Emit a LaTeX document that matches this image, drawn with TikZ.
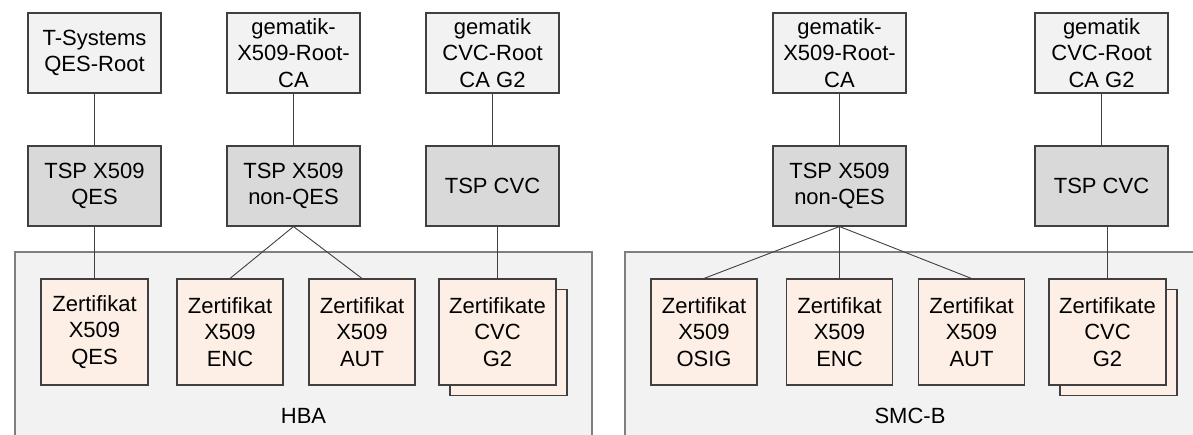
\documentclass[tikz,border=0pt]{standalone}
\usepackage{fontspec}
\setmainfont{Liberation Sans}

\definecolor{boxline}{HTML}{404040}
\definecolor{cardline}{HTML}{7F7F7F}
\definecolor{rootfill}{HTML}{F2F2F2}
\definecolor{tspfill}{HTML}{D9D9D9}
\definecolor{certfill}{HTML}{FDEFE5}

\tikzset{
  box/.style={draw=boxline, line width=1.1pt, align=center, inner sep=0pt,
    font=\fontsize{22}{26.5}\selectfont},
  rootbox/.style={box, fill=rootfill, minimum width=133pt, minimum height=80pt},
  tspbox/.style={box, fill=tspfill, minimum width=133pt, minimum height=80pt},
  certbox/.style={box, fill=certfill, minimum width=106pt, minimum height=106pt},
  cvcbox/.style={certbox, minimum width=117pt},
  cardbox/.style={draw=cardline, fill=rootfill, line width=1.1pt, inner sep=0pt},
  cardlabel/.style={inner sep=0pt, font=\fontsize{22}{26.5}\selectfont},
  link/.style={draw=boxline, line width=0.9pt}
}

\begin{document}
\begin{tikzpicture}[x=1pt,y=-1pt]

\useasboundingbox (0,0) rectangle (1193,435);

% HBA
\node[cardbox, minimum width=577pt, minimum height=188pt] (hba) at (303.5,346) {};
\node[cardlabel] (hbaLabel) at (303.5,416) {HBA};

\node[rootbox] (rootQES) at (94.5,53) {T-Systems\\QES-Root};
\node[rootbox] (rootX509) at (293.5,53) {gematik-\\X509-Root-\\CA};
\node[rootbox] (rootCVC) at (492.5,53) {gematik\\CVC-Root\\CA G2};

\node[tspbox] (tspQES) at (94.5,186) {TSP X509\\QES};
\node[tspbox] (tspX509) at (293.5,186) {TSP X509\\non-QES};
\node[tspbox] (tspCVC) at (492.5,186) {TSP CVC};

\node[certbox, minimum width=107pt] (certQES) at (94.5,332) {Zertifikat\\X509\\QES};
\node[certbox] (certENC) at (230,332) {Zertifikat\\X509\\ENC};
\node[certbox] (certAUT) at (362,332) {Zertifikat\\X509\\AUT};
\node[cvcbox] (certCVCback) at (508.5,342.5) {};
\node[cvcbox] (certCVC) at (497.5,332) {Zertifikate\\CVC\\G2};

\draw[link] (rootQES) -- (tspQES);
\draw[link] (rootX509) -- (tspX509);
\draw[link] (rootCVC) -- (tspCVC);
\draw[link] (tspQES) -- (certQES);
\draw[link] (tspX509.south) -- (certENC.north);
\draw[link] (tspX509.south) -- (certAUT.north);
\draw[link] (certCVC.north) -- (certCVC.north |- tspCVC.south);

% SMC-B
\node[cardbox, minimum width=574pt, minimum height=188pt] (smcb) at (912,346) {};
\node[cardlabel] (smcbLabel) at (910,416) {SMC-B};

\node[rootbox] (rootX509b) at (839.5,53) {gematik-\\X509-Root-\\CA};
\node[rootbox] (rootCVCb) at (1101.5,53) {gematik\\CVC-Root\\CA G2};

\node[tspbox] (tspX509b) at (839.5,186) {TSP X509\\non-QES};
\node[tspbox] (tspCVCb) at (1101.5,186) {TSP CVC};

\node[certbox] (certOSIG) at (704,332) {Zertifikat\\X509\\OSIG};
\node[certbox] (certENCb) at (839.5,332) {Zertifikat\\X509\\ENC};
\node[certbox] (certAUTb) at (971.5,332) {Zertifikat\\X509\\AUT};
\node[cvcbox] (certCVCbback) at (1118.5,342.5) {};
\node[cvcbox] (certCVCb) at (1107.5,332) {Zertifikate\\CVC\\G2};

\draw[link] (rootX509b) -- (tspX509b);
\draw[link] (rootCVCb) -- (tspCVCb);
\draw[link] (tspX509b.south) -- (certOSIG.north);
\draw[link] (tspX509b.south) -- (certENCb.north);
\draw[link] (tspX509b.south) -- (certAUTb.north);
\draw[link] (certCVCb.north) -- (certCVCb.north |- tspCVCb.south);

\end{tikzpicture}
\end{document}
